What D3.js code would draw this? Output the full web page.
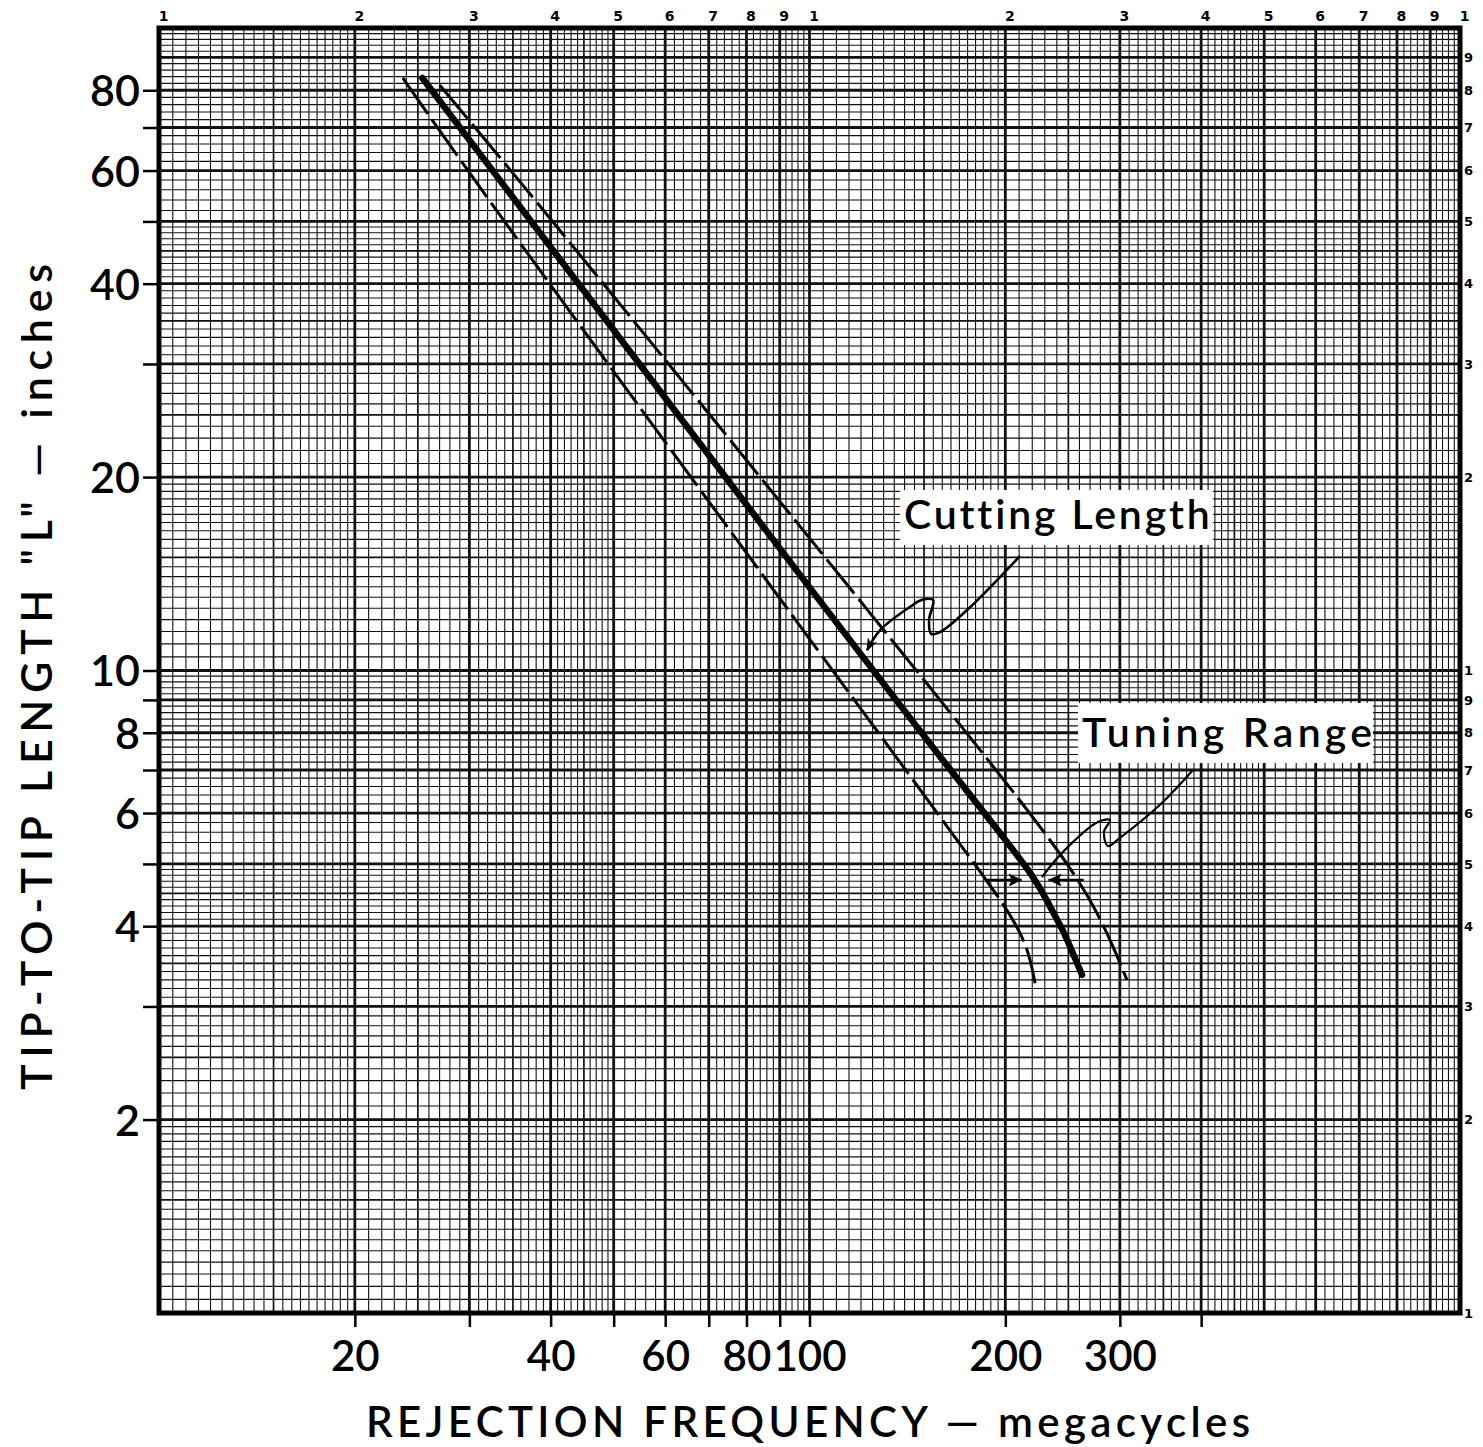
<!DOCTYPE html>
<html>
<head>
<meta charset="utf-8">
<script src="https://cdn.jsdelivr.net/npm/d3@7"></script>
<style>
  body { margin: 0; background: #fff; }
  svg { display: block; }
  text { font-variant-ligatures: none; }
</style>
</head>
<body>
<div id="chart"></div>
<script>
// cutting length (thick solid line), freq in megacycles, length in inches
const cutFreq = [25.4, 119.6, 189.4, 223.7, 234.3, 245.3, 254, 262.4];
const cutLen  = [83.6, 10.57, 5.85, 4.72, 4.28, 3.95, 3.63, 3.36];

// tuning range limits (dashed lines)
const lowFreq = [23.7, 33.4, 168.6, 198.4, 216, 222.2];
const lowLen  = [83.6, 50.8, 5.45, 4.35, 3.77, 3.26];
const highFreq = [27.0, 39.9, 137.8, 231.8, 276.7, 307.6];
const highLen  = [81.5, 50.8, 10.76, 5.59, 4.28, 3.30];

// axis ticks and labels
const xTicks = [20, 30, 40, 50, 60, 70, 80, 90, 100, 200, 300, 400];
const xLabels = [20, 40, 60, 80, 100, 200, 300];
const yTicks = [2, 3, 4, 5, 6, 7, 8, 9, 10, 20, 30, 40, 50, 60, 70, 80];
const yLabels = [2, 4, 6, 8, 10, 20, 40, 60, 80];

// annotation pointers (freq, length)
const cutPointer = [[210.7, 15.08], [174.7, 12.42], [158.8, 11.48], [153.8, 11.40], [152.7, 11.99],
                    [154.9, 12.88], [148.9, 12.88], [142.7, 12.56], [128.4, 11.56], [122.6, 10.76]];
const tunePointer = [[388.6, 7.0], [345.8, 6.18], [300.1, 5.49], [287.6, 5.33], [283.6, 5.61],
                     [289.7, 5.85], [277.6, 5.81], [245.3, 5.22], [227.7, 4.77]];
const tuneArrowLen = 4.72;
const tuneArrowLeft = [186, 212];
const tuneArrowRight = [264, 233];

const width = 1483;
const height = 1447;

const x = d3.scaleLog().domain([10, 1000]).range([159, 1460]);
const y = d3.scaleLog().domain([1, 100]).range([1313, 28]);

const svg = d3.select("#chart")
    .append("svg")
    .attr("width", width)
    .attr("height", height);

svg.append("rect").attr("width", width).attr("height", height).attr("fill", "#fff");

const defs = svg.append("defs");
defs.append("marker")
    .attr("id", "head")
    .attr("viewBox", "0 0 10 10")
    .attr("refX", 9).attr("refY", 5)
    .attr("markerWidth", 5).attr("markerHeight", 5)
    .attr("markerUnits", "strokeWidth")
    .attr("orient", "auto")
    .append("path").attr("d", "M0,1 L10,5 L0,9 L3,5 Z").attr("fill", "#000");
defs.append("marker")
    .attr("id", "bighead")
    .attr("viewBox", "0 0 10 10")
    .attr("refX", 10).attr("refY", 5)
    .attr("markerWidth", 9).attr("markerHeight", 5)
    .attr("markerUnits", "strokeWidth")
    .attr("orient", "auto")
    .append("path").attr("d", "M0,0 L10,5 L0,10 L2,5 Z").attr("fill", "#000");

// log paper rulings
function logRulings(lo, hi) {
    const out = [];
    const kind = m => Math.abs(m - Math.round(m)) < 1e-9 ? "major"
        : Math.abs(m * 2 - Math.round(m * 2)) < 1e-9 ? "mid" : "minor";
    for (let base = lo; base < hi; base *= 10) {
        for (let k = 20; k < 40; k++) out.push({ v: base * k / 20, w: kind(k / 20) });
        for (let k = 20; k < 50; k++) out.push({ v: base * k / 10, w: kind(k / 10) });
        for (let k = 25; k < 50; k++) out.push({ v: base * k / 5, w: kind(k / 5) });
    }
    out.push({ v: hi, w: "major" });
    return out;
}
const strokeW = { minor: 1.1, mid: 1.7, major: 2.8 };
const order = { minor: 0, mid: 1, major: 2 };

const grid = svg.append("g");
const xr = logRulings(10, 1000).sort((a, b) => order[a.w] - order[b.w]);
const yr = logRulings(1, 100).sort((a, b) => order[a.w] - order[b.w]);

grid.selectAll(".vx").data(xr).enter().append("line")
    .attr("x1", d => x(d.v)).attr("x2", d => x(d.v))
    .attr("y1", y(100)).attr("y2", y(1))
    .attr("stroke", "#111").attr("stroke-width", d => strokeW[d.w]);
grid.selectAll(".hy").data(yr).enter().append("line")
    .attr("y1", d => y(d.v)).attr("y2", d => y(d.v))
    .attr("x1", x(10)).attr("x2", x(1000))
    .attr("stroke", "#111").attr("stroke-width", d => strokeW[d.w]);

svg.append("rect")
    .attr("x", x(10)).attr("y", y(100))
    .attr("width", x(1000) - x(10)).attr("height", y(1) - y(100))
    .attr("fill", "none").attr("stroke", "#000").attr("stroke-width", 5);

// axes
const labelFont = "Lato, 'DejaVu Sans', sans-serif";

const yAxis = svg.append("g")
    .attr("transform", `translate(${x(10) - 2},0)`)
    .call(d3.axisLeft(y).tickValues(yTicks).tickSize(14).tickPadding(3)
        .tickFormat(d => yLabels.includes(d) ? d : ""));
yAxis.select(".domain").remove();
yAxis.selectAll("line").attr("stroke-width", 2.5);
yAxis.selectAll("text").attr("font-family", labelFont).attr("font-size", 43)
    .attr("font-weight", 600).attr("dy", "0.36em");

const xAxis = svg.append("g")
    .attr("transform", `translate(0,${y(1) + 2})`)
    .call(d3.axisBottom(x).tickValues(xTicks).tickSize(12)
        .tickFormat(d => xLabels.includes(d) ? d : ""));
xAxis.select(".domain").remove();
xAxis.selectAll("line").attr("stroke-width", 2.5);
xAxis.selectAll("text").attr("font-family", labelFont).attr("font-size", 42)
    .attr("font-weight", 600).attr("y", 26).attr("dy", "0.72em");

// cycle numbers printed on the paper
const digit = d => String(Math.round(d / Math.pow(10, Math.floor(Math.log10(d) + 1e-9))));
const topVals = logRulings(10, 1000).filter(d => d.w === "major").map(d => d.v);
const rightVals = logRulings(1, 100).filter(d => d.w === "major" && d.v < 100).map(d => d.v);

const topAxis = svg.append("g")
    .attr("transform", `translate(4,${y(100) - 7})`)
    .call(d3.axisTop(x).tickValues(topVals).tickSize(0).tickPadding(0).tickFormat(digit));
topAxis.select(".domain").remove();
topAxis.selectAll("text").attr("font-family", "'DejaVu Sans', sans-serif")
    .attr("font-size", 14).attr("font-weight", "bold");

const rightAxis = svg.append("g")
    .attr("transform", `translate(${x(1000) + 4},0)`)
    .call(d3.axisRight(y).tickValues(rightVals).tickSize(0).tickPadding(0).tickFormat(digit));
rightAxis.select(".domain").remove();
rightAxis.selectAll("text").attr("font-family", "'DejaVu Sans', sans-serif")
    .attr("font-size", 13).attr("font-weight", "bold");

// axis titles
svg.append("text")
    .attr("x", 808).attr("y", 1437)
    .attr("text-anchor", "middle")
    .attr("textLength", 884).attr("lengthAdjust", "spacing")
    .attr("font-family", labelFont).attr("font-size", 42).attr("font-weight", 600)
    .text("REJECTION FREQUENCY \u2014 megacycles");

svg.append("text")
    .attr("transform", "translate(52,677) rotate(-90)")
    .attr("text-anchor", "middle")
    .attr("textLength", 826).attr("lengthAdjust", "spacing")
    .attr("font-family", labelFont).attr("font-size", 43).attr("font-weight", 600)
    .text("TIP-TO-TIP LENGTH \"L\" \u2014 inches");

// curves
const line = d3.line().x(d => x(d[0])).y(d => y(d[1])).curve(d3.curveBasis);
const zip = (a, b) => a.map((v, i) => [v, b[i]]);

svg.append("path").datum(zip(lowFreq, lowLen)).attr("d", line)
    .attr("fill", "none").attr("stroke", "#000").attr("stroke-width", 3)
    .attr("stroke-dasharray", "44,7");
svg.append("path").datum(zip(highFreq, highLen)).attr("d", line)
    .attr("fill", "none").attr("stroke", "#000").attr("stroke-width", 3)
    .attr("stroke-dasharray", "44,7");
svg.append("path").datum(zip(cutFreq, cutLen)).attr("d", line)
    .attr("fill", "none").attr("stroke", "#000").attr("stroke-width", 6.5)
    .attr("stroke-linecap", "round");

// annotation boxes
function label(txt, f0, l0, f1, l1, len) {
    svg.append("rect")
        .attr("x", x(f0)).attr("y", y(l0))
        .attr("width", x(f1) - x(f0)).attr("height", y(l1) - y(l0))
        .attr("fill", "#fff");
    svg.append("text")
        .attr("x", x(f0) + 4).attr("y", y(l1) - 16)
        .attr("textLength", len).attr("lengthAdjust", "spacing")
        .attr("font-family", labelFont).attr("font-size", 41).attr("font-weight", 600)
        .text(txt);
}
label("Cutting  Length", 137.7, 19.1, 417.3, 15.68, 306);
label("Tuning  Range", 258.7, 8.9, 735, 7.18, 290);

const pointer = d3.line().x(d => x(d[0])).y(d => y(d[1])).curve(d3.curveCatmullRom.alpha(0.5));
svg.append("path").datum(cutPointer).attr("d", pointer)
    .attr("fill", "none").attr("stroke", "#000").attr("stroke-width", 2.6)
    .attr("marker-end", "url(#head)");
svg.append("path").datum(tunePointer).attr("d", pointer)
    .attr("fill", "none").attr("stroke", "#000").attr("stroke-width", 2.2);

// tuning range arrows
[tuneArrowLeft, tuneArrowRight].forEach(a => {
    svg.append("line")
        .attr("x1", x(a[0])).attr("x2", x(a[1]))
        .attr("y1", y(tuneArrowLen)).attr("y2", y(tuneArrowLen))
        .attr("stroke", "#000").attr("stroke-width", 2.6)
        .attr("marker-end", "url(#bighead)");
});
</script>
</body>
</html>
